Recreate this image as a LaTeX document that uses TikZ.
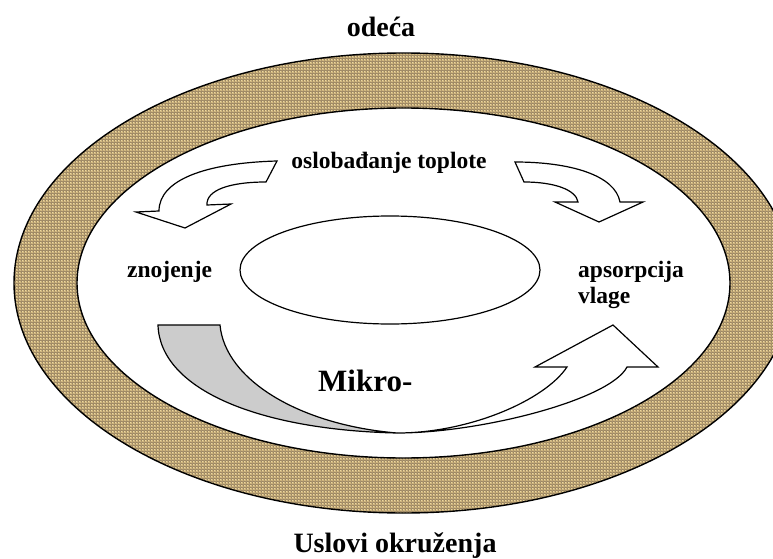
\documentclass[tikz,border=0pt]{standalone}
\usepackage{fontspec}
\setmainfont{Liberation Serif}
\usetikzlibrary{positioning, shapes.geometric, patterns}
\definecolor{burlapMid}{HTML}{CFB47C}
\definecolor{burlapDark}{HTML}{7A5C2C}
\definecolor{burlapLight}{HTML}{F2E2AE}
\definecolor{sweatGrey}{HTML}{CCCCCC}

\begin{document}
\begin{tikzpicture}[x=1pt, y=-1pt, line join=miter,
    ring/.style={line width=1.4pt},
    blockarrow/.style={draw, line width=1.2pt, fill=white},
    small/.style={font=\fontsize{23.5}{26}\selectfont\bfseries, inner sep=0pt},
    big/.style={font=\fontsize{28}{30}\selectfont\bfseries, inner sep=0pt},
    huge/.style={font=\fontsize{31}{33}\selectfont\bfseries, inner sep=0pt}]
    \clip (0,0) rectangle (773,559);
    \fill[burlapMid, even odd rule] (403.5,283) ellipse [x radius=389.5pt, y radius=230pt] (403.5,283) ellipse [x radius=326.5pt, y radius=175pt];
    \fill[pattern=grid, pattern color=burlapDark!75, even odd rule] (403.5,283) ellipse [x radius=389.5pt, y radius=230pt] (403.5,283) ellipse [x radius=326.5pt, y radius=175pt];
    \fill[pattern=crosshatch dots, pattern color=burlapLight, even odd rule] (403.5,283) ellipse [x radius=389.5pt, y radius=230pt] (403.5,283) ellipse [x radius=326.5pt, y radius=175pt];
    \draw[ring] (403.5,283) ellipse [x radius=389.5pt, y radius=230pt];
    \draw[ring] (403.5,283) ellipse [x radius=326.5pt, y radius=175pt];
    \node[draw, ellipse, line width=1.2pt, minimum width=300pt, minimum height=108pt] (core) at (390,270) {};
    \draw[blockarrow] (277,161) .. controls (205,163) and (159,180) .. (159,211) -- (136,212) -- (185,228) -- (231,204) -- (207,205) .. controls (206,190) and (230,182) .. (266,182) -- cycle;
    \draw[blockarrow] (515,162) .. controls (570,162) and (615,175) .. (620,202) -- (643,202) -- (599,222) -- (555,202) -- (578,202) .. controls (576,190) and (555,182) .. (524,182) -- cycle;
    \draw[blockarrow, fill=sweatGrey] (158,325) -- (220,325) .. controls (225,380) and (300,425) .. (397,433) .. controls (260,430) and (160,390) .. (158,325) -- cycle;
    \draw[blockarrow] (397,433) .. controls (480,433) and (610,400) .. (627,367) -- (658,367) -- (613,325) -- (535,367) -- (567,367) .. controls (545,400) and (470,433) .. (397,433) -- cycle;
    \node[big, anchor=base] (odeca) at (381,37) {odeća};
    \node[big, anchor=base] (uslovi) at (395,552) {Uslovi okruženja};
    \node[small, anchor=base] (oslob) at (389,168) {oslobađanje toplote};
    \node[small, anchor=base west] (znoj) at (127,277) {znojenje};
    \node[small, anchor=base west] (apsorp) at (578,277) {apsorpcija};
    \node[small, anchor=base west] (vlage) at ([yshift=-26pt]apsorp.base west) {vlage};
    \node[huge, anchor=base west] (mikro) at (318,391) {Mikro-};
\end{tikzpicture}
\end{document}
